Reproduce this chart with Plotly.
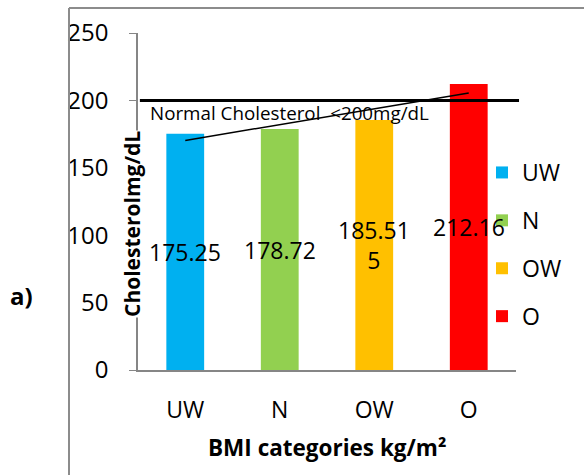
import numpy as np
import plotly.graph_objects as go

# BMI categories and mean cholesterol (mg/dL)
categories = ["UW", "N", "OW", "O"]
cholesterol = [175.25, 178.72, 185.515, 212.16]
bar_labels = ["175.25", "178.72", "185.51<br>5", "212.16"]
colors = ["#00B0F0", "#92D050", "#FFC000", "#FF0000"]
y_ticks = [0, 50, 100, 150, 200, 250]
normal_limit = 200

FONT = "Open Sans"

fig = go.Figure()

for cat, val, col in zip(categories, cholesterol, colors):
    fig.add_trace(go.Bar(
        x=[cat], y=[val], name=cat, marker=dict(color=col, line=dict(width=0)),
        width=0.4, legendgroup=cat, showlegend=True,
    ))

# linear trend line through the four category means
xi = np.arange(len(categories))
slope, intercept = np.polyfit(xi, cholesterol, 1)
fig.add_trace(go.Scatter(
    x=[categories[0], categories[-1]],
    y=[intercept + slope * xi[0], intercept + slope * xi[-1]],
    mode="lines", line=dict(color="black", width=1.5),
    showlegend=False, hoverinfo="skip",
))

# value labels in the middle of each bar
for cat, val, lab in zip(categories, cholesterol, bar_labels):
    fig.add_annotation(x=cat, y=val / 2, text=lab, showarrow=False,
                       font=dict(family=FONT, size=23, color="black"),
                       xanchor="center", yanchor="middle")

# reference limit line and its caption
fig.add_shape(type="line", xref="paper", yref="y", x0=0.005, x1=1.008,
              y0=normal_limit, y1=normal_limit,
              line=dict(color="black", width=3), layer="above")
fig.add_annotation(xref="paper", yref="paper", x=(289.5 - 138) / 378,
                   y=(370 - 113) / 337, text="Normal Cholesterol  <200mg/dL",
                   showarrow=False, font=dict(family=FONT, size=18.8, color="black"),
                   xanchor="center", yanchor="middle")

# axis titles
fig.add_annotation(xref="paper", yref="paper", x=(132 - 138) / 378,
                   y=(370 - 224) / 337, text="<b>Cholesterolmg/dL</b>",
                   textangle=-90, showarrow=False, bgcolor="white", borderpad=0,
                   font=dict(family=FONT, size=21, color="black"),
                   xanchor="center", yanchor="middle")
fig.add_annotation(xref="paper", yref="paper", x=0.5, y=(370 - 447) / 337,
                   text="<b>BMI categories kg/m²</b>", showarrow=False,
                   font=dict(family=FONT, size=22.5, color="black"),
                   xanchor="center", yanchor="middle")
fig.add_annotation(xref="paper", yref="paper", x=(21 - 138) / 378,
                   y=(370 - 295) / 337, text="<b>a)</b>", showarrow=False,
                   font=dict(family=FONT, size=24, color="black"),
                   xanchor="center", yanchor="middle")

# outer frame (left and top edges)
frame = dict(color="#8C8C8C", width=2)
fig.add_shape(type="line", xref="paper", yref="paper",
              x0=(69 - 138) / 378, x1=(69 - 138) / 378,
              y0=(370 - 8) / 337, y1=(370 - 480) / 337, line=frame)
fig.add_shape(type="line", xref="paper", yref="paper",
              x0=(69 - 138) / 378, x1=(590 - 138) / 378,
              y0=(370 - 8) / 337, y1=(370 - 8) / 337, line=frame)

fig.update_layout(
    width=584, height=475,
    margin=dict(l=138, r=68, t=33, b=105),
    paper_bgcolor="white", plot_bgcolor="white",
    barmode="overlay",
    font=dict(family=FONT, size=23, color="black"),
    showlegend=True,
    legend=dict(x=(482 - 138) / 378, y=(370 - 151) / 337, xanchor="left", yanchor="top",
                font=dict(family=FONT, size=23, color="black"),
                tracegroupgap=15, itemwidth=30, bgcolor="rgba(0,0,0,0)"),
    xaxis=dict(type="category", categoryorder="array", categoryarray=categories,
               showline=True, linecolor="#868686", linewidth=1.5,
               ticks="", showgrid=False, zeroline=False, ticklabelstandoff=19,
               tickfont=dict(family=FONT, size=23, color="black"), fixedrange=True),
    yaxis=dict(range=[0, 250], tickvals=y_ticks, showline=True, linecolor="#868686",
               linewidth=1.5, ticks="outside", ticklen=7, tickcolor="#868686",
               showgrid=False, zeroline=False, ticklabelstandoff=16,
               tickfont=dict(family=FONT, size=24, color="black"), fixedrange=True),
)

fig.write_html("out.html")
